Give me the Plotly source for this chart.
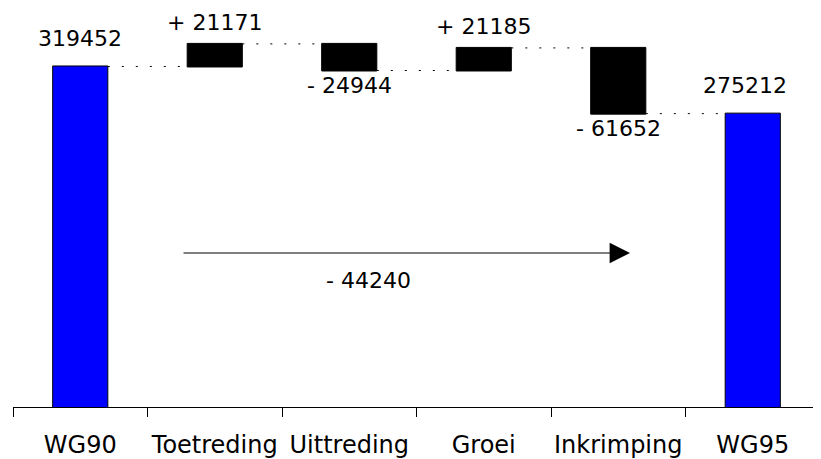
import plotly.graph_objects as go

# ---- data ----
categories = ["WG90", "Toetreding", "Uittreding", "Groei", "Inkrimping", "WG95"]
measures = ["absolute", "relative", "relative", "relative", "relative", "total"]
values = [319452, 21171, -24944, 21185, -61652, 275212]

# ---- derived cumulative levels ----
levels = []
run = 0
for m, v in zip(measures, values):
    if m == "absolute":
        run = v
    elif m == "relative":
        run += v
    levels.append(run)
net_change = levels[-1] - levels[0]

FONT = "DejaVu Sans"
FS = 22
TICK_FS = 24

fig = go.Figure(go.Waterfall(
    x=categories,
    y=values,
    measure=measures,
    width=0.41,
    textinfo="none",
    increasing=dict(marker=dict(color="black", line=dict(color="black", width=1))),
    decreasing=dict(marker=dict(color="black", line=dict(color="black", width=1))),
    totals=dict(marker=dict(color="#0000FF", line=dict(color="black", width=1))),
    connector=dict(mode="between", line=dict(color="black", width=1, dash="2px,12px")),
    hoverinfo="skip",
))

def fmt_change(v):
    return ("+ " if v > 0 else "- ") + str(abs(v))

annotations = []
for c, m, v, lev in zip(categories, measures, values, levels):
    if m in ("absolute", "total"):
        annotations.append(dict(x=c, y=lev, text=str(lev), showarrow=False,
                                yanchor="middle", yshift=28,
                                xshift=-8 if m == "total" else 0))
    elif v > 0:
        annotations.append(dict(x=c, y=lev, text=fmt_change(v), showarrow=False,
                                yanchor="middle", yshift=21))
    else:
        annotations.append(dict(x=c, y=lev, text=fmt_change(v), showarrow=False,
                                yanchor="middle", yshift=-15))

# net change arrow and label
annotations.append(dict(xref="paper", yref="paper", x=0.7646, y=0.386,
                        ax=-448, ay=0, axref="pixel", ayref="pixel",
                        text="", showarrow=True, arrowhead=2, arrowsize=3.4,
                        arrowwidth=1.2, arrowcolor="black", standoff=0))
annotations.append(dict(xref="paper", yref="paper", x=0.44, y=0.318,
                        text=fmt_change(net_change), showarrow=False,
                        xanchor="center", yanchor="middle"))

fig.update_layout(
    width=813, height=451,
    margin=dict(l=5, r=1, t=0, b=52, autoexpand=False),
    paper_bgcolor="white", plot_bgcolor="white",
    font=dict(family=FONT, size=FS, color="black"),
    showlegend=False,
    annotations=annotations,
    xaxis=dict(type="category", range=[-0.5, 5.5], showline=True, linecolor="black",
               linewidth=1, ticks="outside", tickson="boundaries", ticklen=9,
               tickcolor="black", tickwidth=1, showgrid=False, zeroline=False,
               ticklabelstandoff=16, tickangle=0, automargin=False,
               tickfont=dict(family=FONT, size=TICK_FS, color="black")),
    yaxis=dict(range=[0, 374300], visible=False, showgrid=False, zeroline=False,
               automargin=False),
)

fig.write_html("out.html")
